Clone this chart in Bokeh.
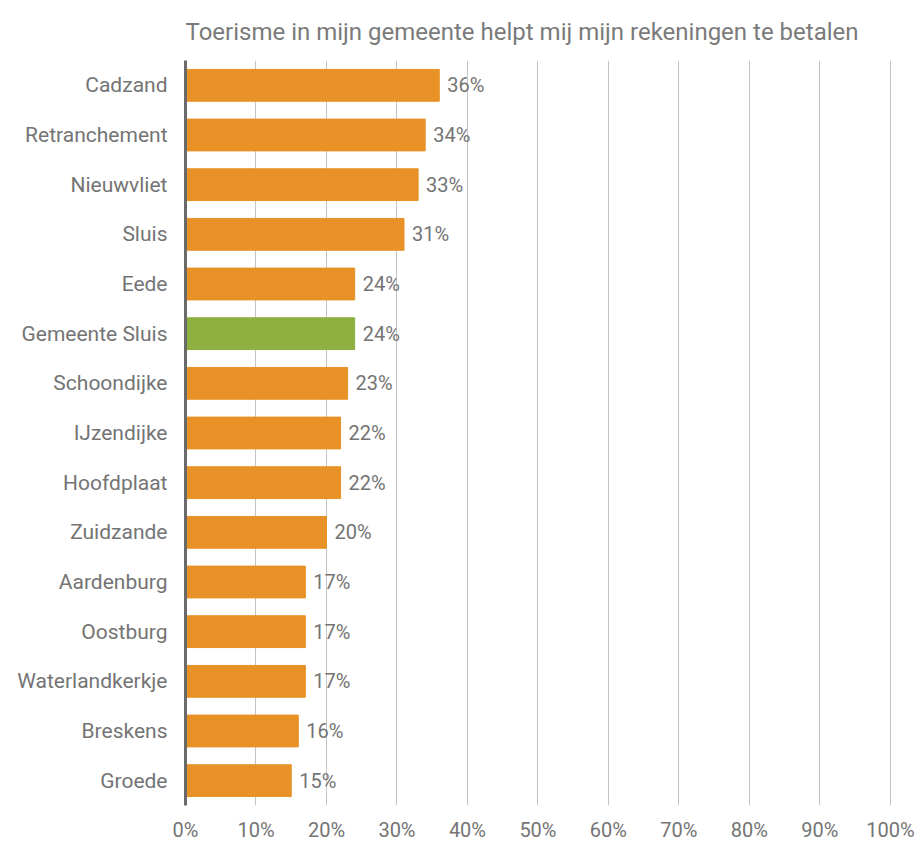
from bokeh.plotting import figure
from bokeh.models import ColumnDataSource, FactorRange, Range1d, FixedTicker, CustomJSTickFormatter
from bokeh.core.properties import value
from bokeh.embed import file_html
from bokeh.resources import INLINE

places = ["Cadzand", "Retranchement", "Nieuwvliet", "Sluis", "Eede", "Gemeente Sluis",
          "Schoondijke", "IJzendijke", "Hoofdplaat", "Zuidzande", "Aardenburg", "Oostburg",
          "Waterlandkerkje", "Breskens", "Groede"]
percent = [36, 34, 33, 31, 24, 24, 23, 22, 22, 20, 17, 17, 17, 16, 15]
colors = ["#E89126" if p != "Gemeente Sluis" else "#8EB040" for p in places]
labels = [f"{v}%" for v in percent]
x_ticks = [0, 10, 20, 30, 40, 50, 60, 70, 80, 90, 100]
title_text = "Toerisme in mijn gemeente helpt mij mijn rekeningen te betalen"

FONT = "Roboto"
GREY = "#747474"

src = ColumnDataSource(dict(place=places, pct=percent, color=colors, label=labels))

p = figure(width=916, height=844, output_backend="svg", toolbar_location=None,
           y_range=FactorRange(factors=list(reversed(places)), range_padding=0),
           x_range=Range1d(0, 100.3),
           min_border_left=185, min_border_right=24, min_border_top=60, min_border_bottom=34,
           title=title_text)

p.hbar(y="place", right="pct", left=0, height=0.64, color="color", source=src)
p.text(x="pct", y="place", text="label", source=src, x_offset=8,
       text_baseline="middle", text_align="left", text_color=GREY,
       text_font=value(FONT), text_font_size="20px")

p.title.text_font = FONT
p.title.text_font_size = "24px"
p.title.text_font_style = "normal"
p.title.text_color = "#7a7a7a"
p.title.align = "left"
p.title.text_line_height = 1.0
p.title.standoff = 30

p.outline_line_color = None
p.ygrid.grid_line_color = None
p.xgrid.grid_line_color = "#c4c4c4"
p.xgrid.grid_line_width = 1
p.xaxis.ticker = FixedTicker(ticks=x_ticks)
p.xaxis.formatter = CustomJSTickFormatter(code="return tick + '%';")
p.xaxis.axis_line_color = None
p.xaxis.major_tick_line_color = None
p.xaxis.minor_tick_line_color = None
p.xaxis.major_label_standoff = 6
p.xaxis.major_label_text_font = FONT
p.xaxis.major_label_text_font_size = "20px"
p.xaxis.major_label_text_color = GREY

p.yaxis.axis_line_color = "#6a6a6a"
p.yaxis.axis_line_width = 3
p.yaxis.major_tick_line_color = None
p.yaxis.minor_tick_line_color = None
p.yaxis.major_label_standoff = 12
p.yaxis.major_label_text_font = FONT
p.yaxis.major_label_text_font_size = "21px"
p.yaxis.major_label_text_color = GREY

open("out.html", "w").write(file_html(p, INLINE))
